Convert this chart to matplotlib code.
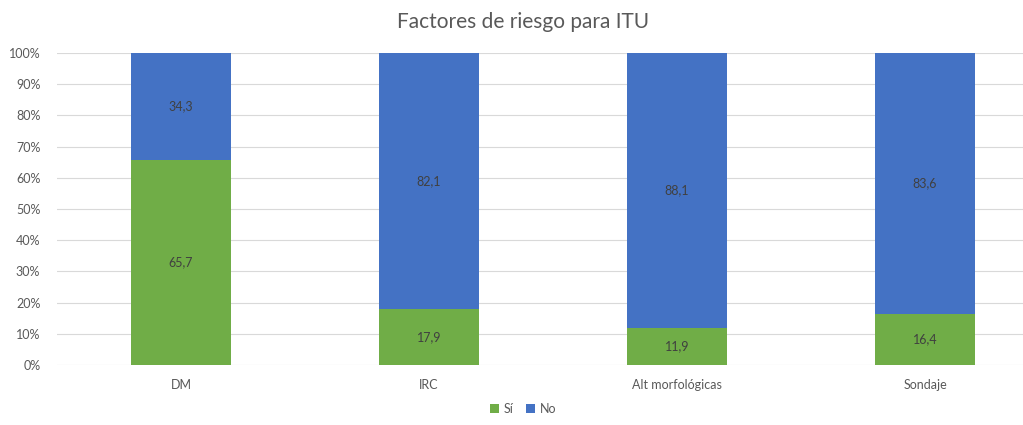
import numpy as np
import matplotlib.pyplot as plt

categories = ["DM", "IRC", "Alt morfológicas", "Sondaje"]
si = [65.7, 17.9, 11.9, 16.4]
no = [34.3, 82.1, 88.1, 83.6]

plt.rcParams['font.family'] = ['Lato', 'DejaVu Sans']

fig = plt.figure(figsize=(10.23, 4.25), dpi=100)
ax = fig.add_axes([57 / 1023, 60 / 425, 966 / 1023, 312 / 425])

x = np.arange(len(categories))
green = '#70AD47'
blue = '#4472C4'
b1 = ax.bar(x, si, width=0.4, color=green, label='Sí', zorder=3)
b2 = ax.bar(x, no, width=0.4, bottom=si, color=blue, label='No', zorder=3)

for bars, vals, bots in ((b1, si, [0] * 4), (b2, no, si)):
    for xi, v, b in zip(x, vals, bots):
        ax.text(xi, b + v / 2, f"{v:.1f}".replace('.', ','), ha='center', va='center',
                fontsize=9, color='#404040', zorder=4)

ax.set_xlim(-0.5, 3.395)
ax.set_ylim(0, 100)
ax.set_yticks(np.arange(0, 101, 10))
ax.set_yticklabels([f"{t}%" for t in range(0, 101, 10)])
ax.set_xticks(x)
ax.set_xticklabels(categories)
ax.tick_params(axis='both', length=0, labelsize=9, colors='#595959')
ax.tick_params(axis='x', pad=10)
ax.tick_params(axis='y', pad=12)
ax.grid(axis='y', color='#D9D9D9', linewidth=0.8, zorder=0)
for s in ax.spines.values():
    s.set_visible(False)

fig.text(523 / 1023, 1 - 22 / 425, 'Factores de riesgo para ITU', ha='center', va='center',
         fontsize=15, color='#595959')
fig.legend(loc='center', bbox_to_anchor=(523 / 1023, 1 - 409 / 425), ncol=2, frameon=False,
           fontsize=9, handlelength=0.7, handleheight=0.7, columnspacing=1.0, handletextpad=0.4,
           labelcolor='#595959')

plt.savefig('out.png', dpi=100)
